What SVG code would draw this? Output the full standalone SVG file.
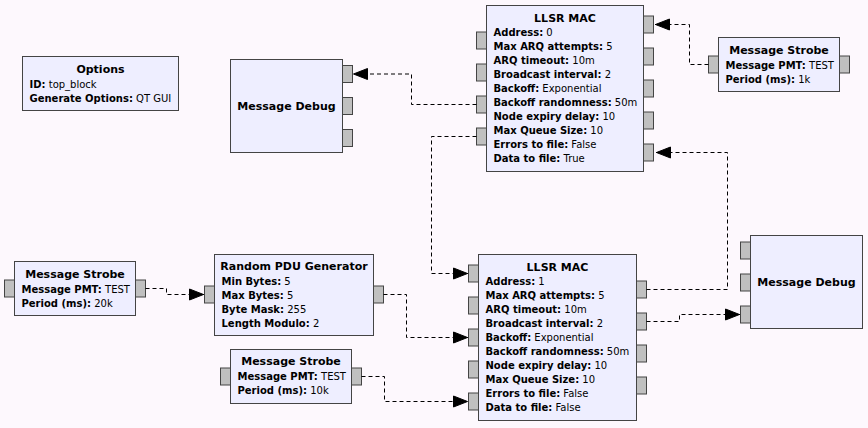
<svg xmlns="http://www.w3.org/2000/svg" width="868" height="428" viewBox="0 0 868 428">
<style>
.blk{fill:#eeeeff;stroke:#444;stroke-width:1}
.port{fill:#c0c0c0;stroke:#444;stroke-width:1}
text{font-family:"DejaVu Sans",Verdana,sans-serif;font-size:10px;fill:#000}
.t{font-size:11px;font-weight:bold;text-anchor:middle}
.b{font-weight:bold}
.conn path{fill:none;stroke:#000;stroke-width:1;stroke-dasharray:4,3}
</style>
<defs>
<marker id="arr" markerUnits="userSpaceOnUse" markerWidth="18" markerHeight="14" refX="16" refY="7" orient="auto" viewBox="0 0 18 14">
<path d="M1.5,1.5 L15.5,7 L1.5,12.5 z" fill="#000" stroke="#000" stroke-width="1" stroke-linejoin="round"/>
</marker>
</defs>
<rect width="868" height="428" fill="#fdf8fd"/>

<g id="options">
<rect class="blk" x="22.5" y="56.5" width="156" height="54"/>
<text class="t" x="100.5" y="72.5">Options</text>
<text x="29.5" y="87.5"><tspan class="b">ID:</tspan> top_block</text>
<text x="29.5" y="101.5"><tspan class="b">Generate Options:</tspan> QT GUI</text>
</g>

<g id="msg_debug_0">
<rect class="blk" x="230.5" y="59.5" width="112" height="93"/>
<rect class="port" x="342.5" y="65.5" width="10" height="17"/>
<rect class="port" x="342.5" y="97.5" width="10" height="17"/>
<rect class="port" x="342.5" y="129.5" width="10" height="17"/>
<text class="t" x="286.5" y="109.5">Message Debug</text>
</g>

<g id="llsr_mac_0">
<rect class="blk" x="486.5" y="5.5" width="157" height="166"/>
<rect class="port" x="476.5" y="32" width="10" height="17"/>
<rect class="port" x="476.5" y="64" width="10" height="17"/>
<rect class="port" x="476.5" y="96" width="10" height="17"/>
<rect class="port" x="476.5" y="128" width="10" height="17"/>
<rect class="port" x="643.5" y="16" width="10" height="17"/>
<rect class="port" x="643.5" y="48" width="10" height="17"/>
<rect class="port" x="643.5" y="80" width="10" height="17"/>
<rect class="port" x="643.5" y="112" width="10" height="17"/>
<rect class="port" x="643.5" y="144" width="10" height="17"/>
<text class="t" x="565" y="21.5">LLSR MAC</text>
<text x="493.5" y="36"><tspan class="b">Address:</tspan> 0</text>
<text x="493.5" y="50"><tspan class="b">Max ARQ attempts:</tspan> 5</text>
<text x="493.5" y="64"><tspan class="b">ARQ timeout:</tspan> 10m</text>
<text x="493.5" y="78"><tspan class="b">Broadcast interval:</tspan> 2</text>
<text x="493.5" y="92"><tspan class="b">Backoff:</tspan> Exponential</text>
<text x="493.5" y="106"><tspan class="b">Backoff randomness:</tspan> 50m</text>
<text x="493.5" y="120"><tspan class="b">Node expiry delay:</tspan> 10</text>
<text x="493.5" y="134"><tspan class="b">Max Queue Size:</tspan> 10</text>
<text x="493.5" y="148"><tspan class="b">Errors to file:</tspan> False</text>
<text x="493.5" y="162"><tspan class="b">Data to file:</tspan> True</text>
</g>

<g id="msg_strobe_0">
<rect class="blk" x="718.5" y="37.5" width="121" height="54"/>
<rect class="port" x="708.5" y="56" width="10" height="17"/>
<rect class="port" x="839.5" y="56" width="10" height="17"/>
<text class="t" x="779" y="54">Message Strobe</text>
<text x="725.5" y="68.5"><tspan class="b">Message PMT:</tspan> TEST</text>
<text x="725.5" y="82.5"><tspan class="b">Period (ms):</tspan> 1k</text>
</g>

<g id="msg_strobe_1">
<rect class="blk" x="14.5" y="261.5" width="121" height="54"/>
<rect class="port" x="4.5" y="280" width="10" height="17"/>
<rect class="port" x="135.5" y="280" width="10" height="17"/>
<text class="t" x="75" y="277.5">Message Strobe</text>
<text x="21.5" y="292.5"><tspan class="b">Message PMT:</tspan> TEST</text>
<text x="21.5" y="306.5"><tspan class="b">Period (ms):</tspan> 20k</text>
</g>

<g id="random_pdu">
<rect class="blk" x="214.5" y="254.5" width="159" height="81"/>
<rect class="port" x="204.5" y="286" width="10" height="17"/>
<rect class="port" x="373.5" y="286" width="10" height="17"/>
<text class="t" x="294" y="269.5">Random PDU Generator</text>
<text x="221.5" y="284.5"><tspan class="b">Min Bytes:</tspan> 5</text>
<text x="221.5" y="298.5"><tspan class="b">Max Bytes:</tspan> 5</text>
<text x="221.5" y="312.5"><tspan class="b">Byte Mask:</tspan> 255</text>
<text x="221.5" y="326.5"><tspan class="b">Length Modulo:</tspan> 2</text>
</g>

<g id="msg_strobe_2">
<rect class="blk" x="230.5" y="349.5" width="121" height="54"/>
<rect class="port" x="220.5" y="368" width="10" height="17"/>
<rect class="port" x="351.5" y="368" width="10" height="17"/>
<text class="t" x="291" y="365">Message Strobe</text>
<text x="237.5" y="380"><tspan class="b">Message PMT:</tspan> TEST</text>
<text x="237.5" y="394"><tspan class="b">Period (ms):</tspan> 10k</text>
</g>

<g id="llsr_mac_1">
<rect class="blk" x="478.5" y="254.5" width="158" height="166"/>
<rect class="port" x="468.5" y="265" width="10" height="17"/>
<rect class="port" x="468.5" y="297" width="10" height="17"/>
<rect class="port" x="468.5" y="329" width="10" height="17"/>
<rect class="port" x="468.5" y="361" width="10" height="17"/>
<rect class="port" x="468.5" y="393" width="10" height="17"/>
<rect class="port" x="636.5" y="281" width="10" height="17"/>
<rect class="port" x="636.5" y="313" width="10" height="17"/>
<rect class="port" x="636.5" y="345" width="10" height="17"/>
<rect class="port" x="636.5" y="377" width="10" height="17"/>
<text class="t" x="557.5" y="270.5">LLSR MAC</text>
<text x="485.5" y="284.5"><tspan class="b">Address:</tspan> 1</text>
<text x="485.5" y="298.5"><tspan class="b">Max ARQ attempts:</tspan> 5</text>
<text x="485.5" y="312.5"><tspan class="b">ARQ timeout:</tspan> 10m</text>
<text x="485.5" y="326.5"><tspan class="b">Broadcast interval:</tspan> 2</text>
<text x="485.5" y="340.5"><tspan class="b">Backoff:</tspan> Exponential</text>
<text x="485.5" y="354.5"><tspan class="b">Backoff randomness:</tspan> 50m</text>
<text x="485.5" y="368.5"><tspan class="b">Node expiry delay:</tspan> 10</text>
<text x="485.5" y="382.5"><tspan class="b">Max Queue Size:</tspan> 10</text>
<text x="485.5" y="396.5"><tspan class="b">Errors to file:</tspan> False</text>
<text x="485.5" y="410.5"><tspan class="b">Data to file:</tspan> False</text>
</g>

<g id="msg_debug_1">
<rect class="blk" x="750.5" y="235.5" width="112" height="93"/>
<rect class="port" x="740.5" y="242" width="10" height="17"/>
<rect class="port" x="740.5" y="274" width="10" height="17"/>
<rect class="port" x="740.5" y="306" width="10" height="17"/>
<text class="t" x="806.5" y="285.5">Message Debug</text>
</g>

<g class="conn" id="connectors">
<path d="M476.5,104.5 H411.5 V74 H353" marker-end="url(#arr)"/>
<path d="M708.5,64.5 H689.5 V24.5 H655" marker-end="url(#arr)"/>
<path d="M476.5,136.5 H431.5 V273.5 H468" marker-end="url(#arr)"/>
<path d="M646.5,289.5 H727.5 V152.5 H656" marker-end="url(#arr)"/>
<path d="M646.5,321.5 H679.5 V314.5 H740" marker-end="url(#arr)"/>
<path d="M145.5,288.5 H166.5 V294.5 H204" marker-end="url(#arr)"/>
<path d="M383.5,294.5 H406.5 V337.5 H468" marker-end="url(#arr)"/>
<path d="M361.5,376.5 H384.5 V401.5 H468" marker-end="url(#arr)"/>
</g>
</svg>
